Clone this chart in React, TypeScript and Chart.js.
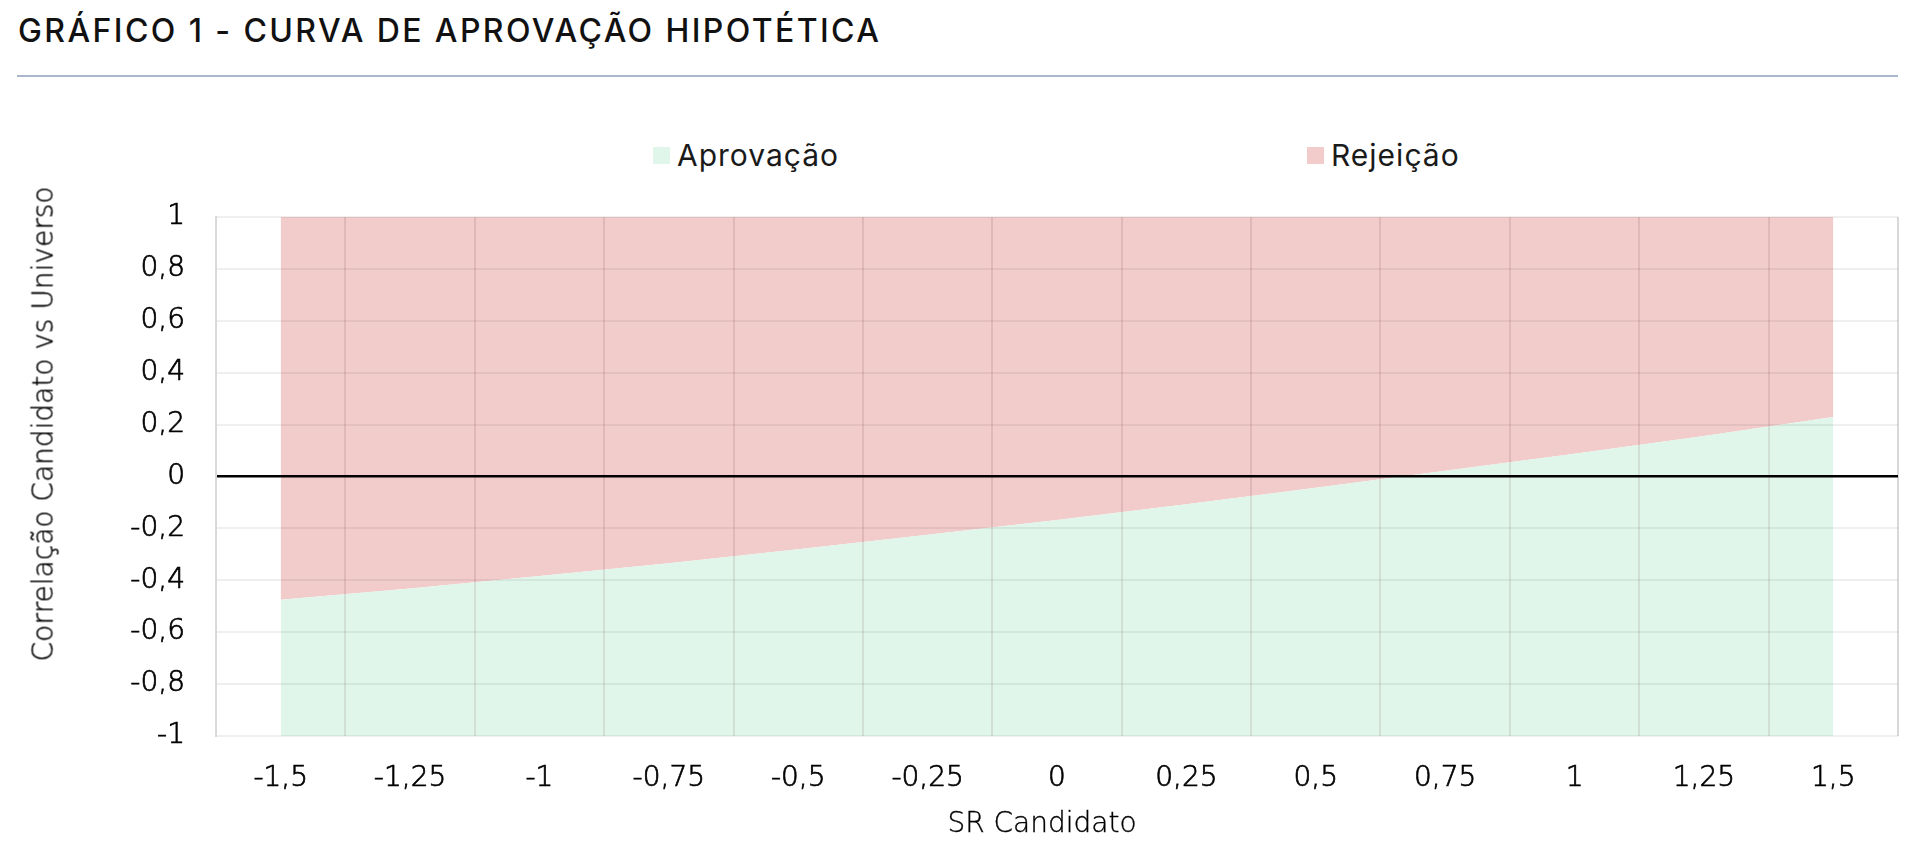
import React, { useEffect, useRef } from 'react';
import { Chart, registerables } from 'chart.js';

Chart.register(...registerables);

// ---------- data ----------
const CATEGORIES = ['-1,5', '-1,25', '-1', '-0,75', '-0,5', '-0,25', '0', '0,25', '0,5', '0,75', '1', '1,25', '1,5'];
// lower band: approval region goes from -1 up to this limit
const APROVACAO_LIMITE = [-0.475, -0.432, -0.383, -0.334, -0.28, -0.224, -0.168, -0.107, -0.043, 0.022, 0.088, 0.156, 0.229];
// upper band: rejection region goes from the limit up to this value
const REJEICAO_TOPO = [1, 1, 1, 1, 1, 1, 1, 1, 1, 1, 1, 1, 1];
const Y_TICKS = [-1, -0.8, -0.6, -0.4, -0.2, 0, 0.2, 0.4, 0.6, 0.8, 1];
const SERIES_NAMES = ['Aprovação', 'Rejeição'];
const SERIES_COLORS = ['#E0F6EA', '#F2CBCB'];
const TITLE = 'GRÁFICO 1 - CURVA DE APROVAÇÃO HIPOTÉTICA';
const X_TITLE = 'SR Candidato';
const Y_TITLE = 'Correlação Candidato vs Universo';

const AXIS_FAMILY = '"DejaVu Sans", "Liberation Sans", sans-serif';
const TICK_FONT = { family: AXIS_FAMILY, size: 28, weight: '200' as any };
const fmt = (v: number) => String(Math.round(v * 10) / 10).replace('.', ',');

export default function App() {
  const canvasRef = useRef<HTMLCanvasElement | null>(null);

  useEffect(() => {
    if (!canvasRef.current) return;
    const chart = new Chart(canvasRef.current, {
      type: 'line',
      data: {
        labels: CATEGORIES,
        datasets: [
          {
            label: SERIES_NAMES[0],
            data: APROVACAO_LIMITE,
            backgroundColor: SERIES_COLORS[0],
            borderWidth: 0,
            pointRadius: 0,
            fill: 'start',
            tension: 0,
          },
          {
            label: SERIES_NAMES[1],
            data: REJEICAO_TOPO,
            backgroundColor: SERIES_COLORS[1],
            borderWidth: 0,
            pointRadius: 0,
            fill: '-1',
            tension: 0,
          },
        ],
      },
      options: {
        animation: false,
        responsive: false,
        events: [],
        layout: { padding: { top: 217, right: 22, left: 0, bottom: 0 } },
        plugins: {
          legend: { display: false },
          tooltip: { enabled: false },
          title: { display: false },
        },
        scales: {
          x: {
            type: 'category',
            offset: true,
            grid: {
              offset: true,
              drawTicks: false,
              lineWidth: 2,
              z: 1,
              color: (ctx: any) =>
                ctx.type === 'scale' || ctx.index === 0 ? '#D9D9D9' : 'rgba(90,40,50,0.11)',
            },
            border: { display: false },
            ticks: {
              font: TICK_FONT,
              color: '#000000',
              textStrokeColor: '#000000',
              textStrokeWidth: 0.7,
              padding: 26,
              maxRotation: 0,
              autoSkip: false,
            },
            afterFit: (s: any) => {
              s.height = 119;
            },
          },
          y: {
            min: -1,
            max: 1,
            afterBuildTicks: (s: any) => {
              s.ticks = Y_TICKS.map((v) => ({ value: v }));
            },
            grid: {
              drawTicks: false,
              z: 1,
              lineWidth: (ctx: any) => (ctx.tick && ctx.tick.value === 0 ? 2.5 : 2),
              color: (ctx: any) =>
                ctx.tick && ctx.tick.value === 0 ? '#000000' : 'rgba(60,50,50,0.08)',
            },
            border: { color: '#D9D9D9', width: 2, z: 2 },
            ticks: {
              font: TICK_FONT,
              color: '#000000',
              textStrokeColor: '#000000',
              textStrokeWidth: 0.7,
              padding: 31,
              callback: (v: any) => fmt(Number(v)),
            },
            afterFit: (s: any) => {
              s.width = 216;
            },
          },
        },
      },
    });
    return () => chart.destroy();
  }, []);

  const textFont = 'Inter, "Noto Sans", sans-serif';
  const axisTitleStyle: any = {
    position: 'absolute',
    fontFamily: AXIS_FAMILY,
    fontWeight: 200,
    fontSize: 28,
    color: '#000000',
    WebkitTextStroke: '0.35px #000000',
    whiteSpace: 'nowrap',
  };

  return (
    <div style={{ position: 'absolute', left: 0, top: 0, width: 1920, height: 855, background: '#ffffff', overflow: 'hidden' }}>
      <div
        style={{
          position: 'absolute',
          left: 18,
          top: 16,
          fontFamily: textFont,
          fontWeight: 450,
          fontSize: 32,
          letterSpacing: 2.4,
          lineHeight: '30px',
          color: '#111111',
          whiteSpace: 'nowrap',
        }}
      >
        {TITLE}
      </div>
      <div style={{ position: 'absolute', left: 17, top: 75, width: 1881, height: 1.5, background: '#A9B7CA' }} />

      {SERIES_NAMES.map((name, i) => (
        <div
          key={name}
          style={{
            position: 'absolute',
            left: i === 0 ? 653 : 1307,
            top: 138,
            height: 34,
            display: 'flex',
            alignItems: 'center',
            whiteSpace: 'nowrap',
          }}
        >
          <span style={{ display: 'inline-block', width: 17, height: 17, background: SERIES_COLORS[i], marginRight: 7 }} />
          <span style={{ fontFamily: textFont, fontSize: 30, letterSpacing: 1, color: '#1a1a1a', lineHeight: '34px' }}>{name}</span>
        </div>
      ))}

      <canvas ref={canvasRef} width={1920} height={855} style={{ position: 'absolute', left: 0, top: 0, width: 1920, height: 855 }} />

      <div style={{ ...axisTitleStyle, left: 1042, top: 822, transform: 'translate(-50%, -50%)' }}>{X_TITLE}</div>
      <div style={{ ...axisTitleStyle, left: 43, top: 424, transform: 'translate(-50%, -50%) rotate(-90deg)' }}>{Y_TITLE}</div>
    </div>
  );
}
